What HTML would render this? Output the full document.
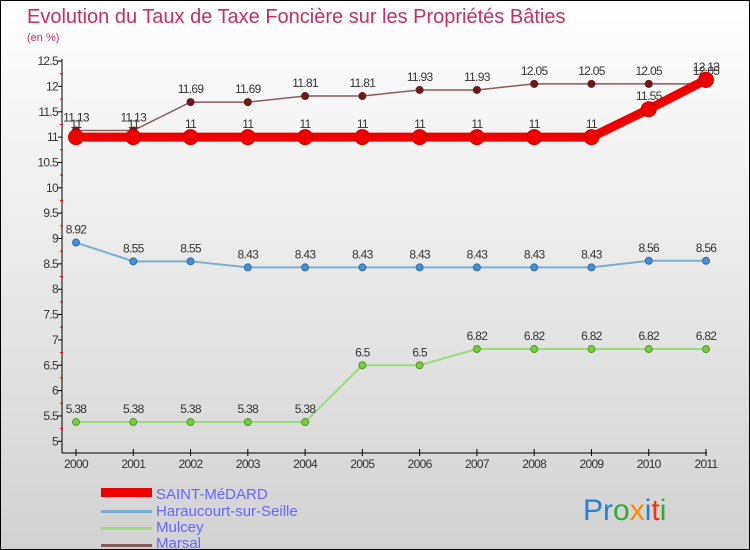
<!DOCTYPE html>
<html><head><meta charset="utf-8"><style>
body{margin:0}
#c{width:750px;height:550px;position:relative;box-sizing:border-box;border:1px solid #000;background:linear-gradient(#ffffff,#d2d2d2);font-family:"Liberation Sans",sans-serif;overflow:hidden}
</style></head><body>
<div id="c">
<svg id="s" width="750" height="550" style="position:absolute;left:0;top:0">
<text x="26" y="22" font-size="20" fill="#c0306a">Evolution du Taux de Taxe Foncière sur les Propriétés Bâties</text>
<text x="26" y="40" font-size="11" fill="#c0306a">(en %)</text>
<g id="axes"></g><g id="series"></g>
<g font-size="15" fill="#6666ff">
<rect x="100" y="487" width="51" height="9" fill="#ee0000"/>
<text x="155" y="498">SAINT-MéDARD</text>
<rect x="100" y="509" width="51" height="3" fill="#7aaed0"/>
<text x="155" y="515">Haraucourt-sur-Seille</text>
<rect x="100" y="526" width="51" height="3" fill="#99dd77"/>
<text x="155" y="531">Mulcey</text>
<rect x="100" y="543" width="51" height="3" fill="#8a5a5a"/>
<text x="155" y="547">Marsal</text>
</g>
<text x="582" y="519" font-size="30"><tspan fill="#2a7fd0">Pr</tspan><tspan fill="#33aa33">o</tspan><tspan fill="#ff8800">x</tspan><tspan fill="#2a7fd0">i</tspan><tspan fill="#ee3311">t</tspan><tspan fill="#33aa33">i</tspan></text>
</svg>
</div>
<script>
const years=["2000","2001","2002","2003","2004","2005","2006","2007","2008","2009","2010","2011"];
const yTicks=[5,5.5,6,6.5,7,7.5,8,8.5,9,9.5,10,10.5,11,11.5,12,12.5];
const saintMedard=[11,11,11,11,11,11,11,11,11,11,11.55,12.13];
const haraucourt=[8.92,8.55,8.55,8.43,8.43,8.43,8.43,8.43,8.43,8.43,8.56,8.56];
const mulcey=[5.38,5.38,5.38,5.38,5.38,6.5,6.5,6.82,6.82,6.82,6.82,6.82];
const marsal=[11.13,11.13,11.69,11.69,11.81,11.81,11.93,11.93,12.05,12.05,12.05,12.05];
const NS="http://www.w3.org/2000/svg";
function xS(i){return 75+i*(630/11);}
function yS(v){return 440.3-(v-5)*50.7;}
function mk(tag,attrs,parent){const e=document.createElementNS(NS,tag);for(const k in attrs)e.setAttribute(k,attrs[k]);parent.appendChild(e);return e;}
const ax=document.getElementById('axes'),se=document.getElementById('series');
let l=mk('line',{x1:61,y1:58,x2:61,y2:452,stroke:'#000'},ax);


yTicks.forEach((v,i)=>{
 const y=yS(v);
 mk('line',{x1:57,y1:y,x2:61,y2:y,stroke:'#000'},ax);
 if(i<yTicks.length-1){mk('line',{x1:59,y1:y-12.7,x2:62,y2:y-12.7,stroke:'#e00'},ax);}
 const t=mk('text',{x:57,y:y+4,'font-size':12,fill:'#333','text-anchor':'end','letter-spacing':'-0.7'},ax);
 t.textContent=String(v);
 
 
});
l=mk('line',{x1:61,y1:452,x2:706,y2:452,stroke:'#000'},ax);


years.forEach((yr,i)=>{
 const x=xS(i);
 mk('line',{x1:x,y1:448,x2:x,y2:455,stroke:'#000'},ax);
 const t=mk('text',{x:x,y:467,'font-size':12,fill:'#333','text-anchor':'middle','letter-spacing':'-0.7'},ax);
 t.textContent=yr;
 
 
});
function draw(name,data,color,w,r,dot,stroke){
 const g=mk('g',{},se);
 
 
 const p=mk('polyline',{points:data.map((v,i)=>xS(i)+','+yS(v)).join(' '),fill:'none',stroke:color,'stroke-width':w},g);
 
 
 data.forEach((v,i)=>{
  const c=mk('circle',{cx:xS(i),cy:yS(v),r:r,fill:dot,stroke:stroke||'none'},g);
  
  
  const t=mk('text',{x:xS(i),y:yS(v)-9,'font-size':12,fill:'#333','text-anchor':'middle','letter-spacing':'-0.7'},g);
  t.textContent=String(v);
  
  
 });
}
draw('mulcey',mulcey,'#99dd77',2,3.5,'#77cc44','#559922');
draw('haraucourt',haraucourt,'#7aaed0',2,3.5,'#4a8ed0','#2a6eb0');
draw('marsal',marsal,'#8a5a5a',1.5,4,'#6a1a1a');
draw('saint-medard',saintMedard,'#ee0000',9,7.5,'#ee0000','#cc0000');
</script>
</body></html>
